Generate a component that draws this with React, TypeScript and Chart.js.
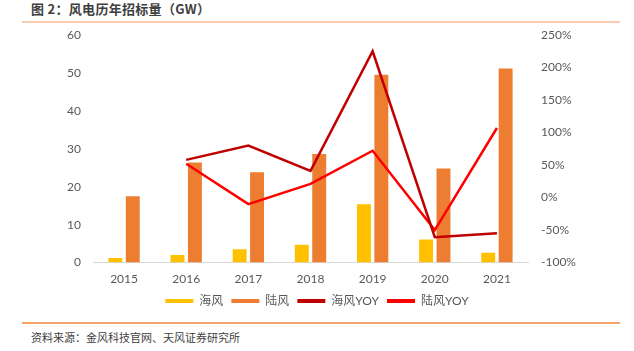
import React, { useEffect, useRef } from "react";
import { Chart, registerables } from "chart.js";

Chart.register(...registerables);

const years = ["2015", "2016", "2017", "2018", "2019", "2020", "2021"];
const offshore = [1.2, 2.0, 3.5, 4.7, 15.4, 6.1, 2.6];
const onshore = [17.5, 26.4, 23.8, 28.6, 49.5, 24.8, 51.2];
const offshoreYoy = [null, 58, 80, 41, 225, -61, -55];
const onshoreYoy = [null, 52, -10, 21, 72, -50, 107];

const FONT = 'Lato, "Noto Sans CJK SC", sans-serif';
const TEXT = "#595959";

const legendShift = {
  id: "legendShift",
  afterLayout(chart: any) {
    if (chart.legend) {
      chart.legend.top -= 8;
      chart.legend.bottom -= 8;
    }
  },
};

export default function App() {
  const ref = useRef<HTMLCanvasElement>(null);
  useEffect(() => {
    const chart = new Chart(ref.current!, {
      data: {
        labels: years,
        datasets: [
          { type: "line", label: "海风YOY", data: offshoreYoy, borderColor: "#C00000", backgroundColor: "#C00000", borderWidth: 2.5, pointRadius: 0, yAxisID: "y1", order: 0 },
          { type: "line", label: "陆风YOY", data: onshoreYoy, borderColor: "#FF0000", backgroundColor: "#FF0000", borderWidth: 2.5, pointRadius: 0, yAxisID: "y1", order: 1 },
          { type: "bar", label: "海风", data: offshore, backgroundColor: "#FFC000", yAxisID: "y", categoryPercentage: 0.56, barPercentage: 0.8, order: 2 },
          { type: "bar", label: "陆风", data: onshore, backgroundColor: "#ED7D31", yAxisID: "y", categoryPercentage: 0.56, barPercentage: 0.8, order: 3 },
        ],
      } as any,
      options: {
        animation: false,
        responsive: false,
        maintainAspectRatio: false,
        layout: { padding: { left: 0, right: 0, top: 35, bottom: 4 } },
        plugins: {
          tooltip: { enabled: false },
          legend: {
            position: "bottom",
            labels: {
              font: { family: FONT, size: 12 },
              color: TEXT,
              boxWidth: 28,
              boxHeight: 4,
              padding: 8,
              generateLabels: (c: any) => {
                const order = [2, 3, 0, 1];
                return order.map((i) => {
                  const ds = c.data.datasets[i];
                  return {
                    text: ds.label,
                    fillStyle: ds.type === "bar" ? ds.backgroundColor : ds.borderColor,
                    strokeStyle: ds.type === "bar" ? ds.backgroundColor : ds.borderColor,
                    lineWidth: 0,
                    fontColor: TEXT,
                    datasetIndex: i,
                    hidden: false,
                  };
                });
              },
            },
          },
        },
        scales: {
          x: {
            grid: { display: false, drawTicks: false },
            border: { display: true, color: "#D9D9D9", width: 1 },
            ticks: { font: { family: FONT, size: 12 }, color: TEXT, padding: 9 },
          },
          y: {
            position: "left",
            min: 0,
            max: 60,
            grid: { display: false, drawTicks: false },
            border: { display: false },
            ticks: { stepSize: 10, font: { family: FONT, size: 12 }, color: TEXT, padding: 12 },
            afterFit: (s: any) => { s.width = 93; },
          },
          y1: {
            position: "right",
            min: -100,
            max: 250,
            grid: { display: false, drawTicks: false },
            border: { display: false },
            ticks: { stepSize: 50, font: { family: FONT, size: 12 }, color: TEXT, padding: 13, callback: (v: any) => v + "%" },
            afterFit: (s: any) => { s.width = 106; },
          },
        },
      },
      plugins: [legendShift],
    });
    return () => chart.destroy();
  }, []);

  return (
    <div style={{ position: "absolute", left: 0, top: 0, width: 634, height: 351, background: "#fff", fontFamily: FONT }}>
      <div style={{ position: "absolute", left: 31, top: 0, fontSize: 13, fontWeight: 700, color: "#404040", lineHeight: "18px", letterSpacing: "0.3px", fontFamily: '"Noto Sans CJK SC", sans-serif' }}>
        图 2：风电历年招标量（GW）
      </div>
      <div style={{ position: "absolute", left: 22, top: 21, width: 598, height: 2, background: "#F8CBAD" }} />
      <div style={{ position: "absolute", left: 22, top: 322, width: 598, height: 2, background: "#F4A46A" }} />
      <div style={{ position: "absolute", left: 31, top: 329, fontSize: 11, color: "#404040", lineHeight: "16px", fontFamily: '"Noto Sans CJK SC", sans-serif' }}>
        资料来源：金风科技官网、天风证券研究所
      </div>
      <canvas ref={ref} width={634} height={329} style={{ position: "absolute", left: 0, top: 0 }} />
    </div>
  );
}
